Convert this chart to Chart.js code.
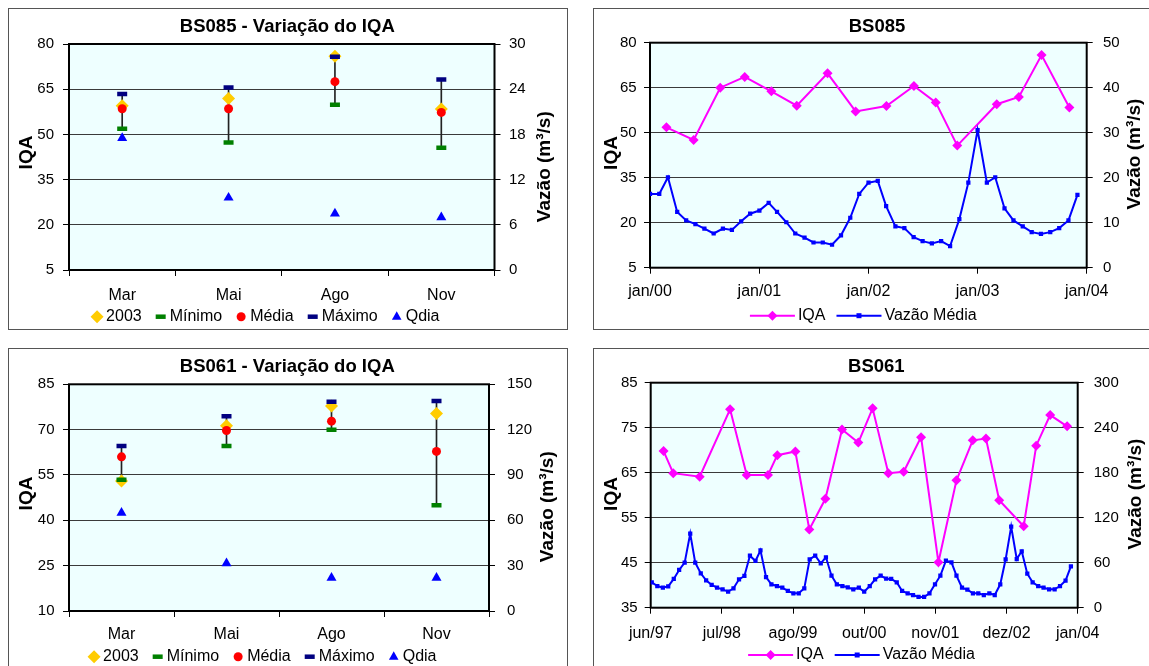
<!DOCTYPE html>
<html lang="pt-BR">
<head>
<meta charset="utf-8">
<title>IQA – BS085 / BS061</title>
<script src="https://cdn.jsdelivr.net/npm/chart.js@4.4.1/dist/chart.umd.min.js"></script>
<style>
  html, body { margin: 0; padding: 0; background: #fff; }
  body { width: 1149px; height: 666px; overflow: hidden; position: relative; }
  .panel { position: absolute; }
  .panel canvas { display: block; }
</style>
</head>
<body>
<div class="panel" style="left:8px;top:8px"><canvas id="bs085-stats" width="560" height="322"></canvas></div>
<div class="panel" style="left:593px;top:8px"><canvas id="bs085-series" width="580" height="322"></canvas></div>
<div class="panel" style="left:8px;top:348px"><canvas id="bs061-stats" width="560" height="330"></canvas></div>
<div class="panel" style="left:593px;top:348px"><canvas id="bs061-series" width="580" height="330"></canvas></div>

<script>
'use strict';

// ─── Data ────────────────────────────────────────────────────────────────────
const campaignMonths = ['Mar', 'Mai', 'Ago', 'Nov'];

// BS085 – campaign statistics (IQA) and daily flow on sampling day (m³/s)
const bs085Iqa2003 = [59.5, 61.9, 75.9, 58.4];
const bs085Min     = [51.9, 47.3, 59.8, 45.6];
const bs085Mean    = [58.5, 58.5, 67.5, 57.3];
const bs085Max     = [63.4, 65.6, 75.8, 68.2];
const bs085Qdia    = [17.5, 9.6, 7.5, 7.0];

// BS061 – campaign statistics
const bs061Iqa2003 = [53.0, 71.3, 77.8, 75.3];
const bs061Min     = [53.4, 64.6, 70.0, 45.0];
const bs061Mean    = [61.0, 69.7, 72.8, 62.8];
const bs061Max     = [64.6, 74.4, 79.2, 79.5];
const bs061Qdia    = [65.0, 31.5, 22.0, 22.0];

// BS085 – IQA per sampling date
const bs085IqaDates = [
  '2000-02-25', '2000-05-26', '2000-08-23', '2000-11-13',
  '2001-02-10', '2001-05-06', '2001-08-17', '2001-11-19',
  '2002-03-02', '2002-06-02', '2002-08-14', '2002-10-25',
  '2003-03-06', '2003-05-19', '2003-08-03', '2003-11-04',
];
const bs085Iqa = [51.8, 47.6, 65.0, 68.6, 63.8, 59.0, 69.8, 57.1, 58.9, 65.6, 60.1, 45.7, 59.5, 61.9, 75.9, 58.4];

// BS085 – monthly mean flow, jan/2000 .. dez/2003
const bs085FlowStart = '2000-01';
const bs085Flow = [
  16.4, 16.4, 20.1, 12.4, 10.5, 9.7, 8.7, 7.6, 8.7, 8.4, 10.3, 12.0,
  12.7, 14.4, 12.4, 10.1, 7.6, 6.7, 5.6, 5.6, 5.1, 7.2, 11.1, 16.4,
  18.9, 19.3, 13.7, 9.2, 8.8, 6.8, 5.9, 5.4, 5.9, 4.8, 10.8, 18.9,
  30.6, 18.9, 20.1, 13.2, 10.5, 9.2, 7.9, 7.5, 7.9, 8.8, 10.5, 16.2,
];
const bs085TickDates  = ['2000-01-01', '2001-01-01', '2002-01-01', '2003-01-01', '2004-01-01'];
const bs085TickLabels = ['jan/00', 'jan/01', 'jan/02', 'jan/03', 'jan/04'];

// BS061 – IQA per sampling date
const bs061IqaDates = [
  '1997-09-05', '1997-10-29', '1998-03-26', '1998-09-12', '1998-12-14',
  '1999-04-12', '1999-06-03', '1999-09-12', '1999-11-29', '2000-02-27',
  '2000-05-30', '2000-08-29', '2000-11-17', '2001-02-13', '2001-05-10',
  '2001-08-15', '2001-11-20', '2002-03-01', '2002-05-31', '2002-08-13',
  '2002-10-26', '2003-03-12', '2003-05-21', '2003-08-07', '2003-11-10',
];
const bs061Iqa = [
  69.8, 64.9, 64.1, 79.1, 64.5, 64.5, 68.9, 69.7, 52.4, 59.2, 74.6, 71.7, 79.3,
  64.9, 65.2, 72.9, 45.1, 63.3, 72.2, 72.6, 58.9, 53.1, 71.0, 77.8, 75.3,
];

// BS061 – monthly mean flow, jul/1997 .. dez/2003
const bs061FlowStart = '1997-07';
const bs061Flow = [
  33.9, 28.9, 26.7, 28.5, 38.3, 50.3, 60.0, 98.7, 60.0, 45.9, 36.5, 30.3,
  26.7, 24.5, 21.3, 25.8, 37.8, 42.3, 69.3, 62.3, 76.5, 40.9, 31.2, 28.9,
  26.7, 22.3, 19.2, 19.2, 25.8, 64.5, 69.3, 59.2, 67.2, 42.7, 31.2, 28.9,
  27.2, 24.5, 26.7, 21.3, 28.9, 37.8, 42.7, 38.7, 38.3, 33.9, 22.3, 19.2,
  16.9, 14.3, 14.3, 19.2, 31.2, 42.7, 62.7, 60.5, 42.7, 26.7, 24.0, 19.2,
  19.2, 16.9, 19.2, 16.9, 31.2, 64.5, 108.0, 64.9, 75.2, 45.3, 33.9, 28.9,
  26.7, 24.5, 24.5, 28.9, 36.0, 55.2,
];
// Excel date axis: major unit of 398 days starting at the axis minimum
const bs061TickDates  = ['1997-06-25', '1998-07-28', '1999-08-30', '2000-10-01', '2001-11-03', '2002-12-06', '2004-01-08'];
const bs061TickLabels = ['jun/97', 'jul/98', 'ago/99', 'out/00', 'nov/01', 'dez/02', 'jan/04'];

// ─── Style ───────────────────────────────────────────────────────────────────
const FONT    = '"Liberation Sans", Arial, Helvetica, sans-serif';
const PLOT_BG = '#EEFFFF';
const GRID    = '#3a3a3a';
const FLOW_TITLE = 'Vazão (m³/s)';

Chart.defaults.font.family = FONT;
Chart.defaults.color = '#000';

// ─── Helpers ─────────────────────────────────────────────────────────────────
const toDay = (s) => Date.UTC(+s.slice(0, 4), +s.slice(5, 7) - 1, +s.slice(8, 10)) / 864e5;

// First-of-month date strings for a monthly series
function monthStarts(first, count) {
  const [y0, m0] = first.split('-').map(Number);
  const out = [];
  for (let i = 0; i < count; i++) {
    const m = m0 - 1 + i;
    out.push(`${y0 + Math.floor(m / 12)}-${String((m % 12) + 1).padStart(2, '0')}-01`);
  }
  return out;
}

function drawRotated(ctx, text, x, y) {
  ctx.save();
  ctx.translate(x, y);
  ctx.rotate(-Math.PI / 2);
  ctx.fillText(text, 0, 0);
  ctx.restore();
}

function drawMark(ctx, mark, color, cx, cy) {
  ctx.fillStyle = color;
  ctx.beginPath();
  if (mark === 'diamond') {
    ctx.moveTo(cx, cy - 6.5); ctx.lineTo(cx + 6.5, cy); ctx.lineTo(cx, cy + 6.5); ctx.lineTo(cx - 6.5, cy);
  } else if (mark === 'dash') {
    ctx.rect(cx - 5, cy - 2.25, 10, 4.5);
  } else if (mark === 'circle') {
    ctx.arc(cx, cy, 4.5, 0, Math.PI * 2);
  } else if (mark === 'triangle') {
    ctx.moveTo(cx, cy - 5.5); ctx.lineTo(cx + 4.8, cy + 3); ctx.lineTo(cx - 4.8, cy + 3);
  } else if (mark === 'smallDiamond') {
    ctx.moveTo(cx, cy - 5); ctx.lineTo(cx + 5, cy); ctx.lineTo(cx, cy + 5); ctx.lineTo(cx - 5, cy);
  } else if (mark === 'square') {
    ctx.rect(cx - 2.5, cy - 2.5, 5, 5);
  }
  ctx.closePath();
  ctx.fill();
}

// Legend built from the datasets that carry a legendMark
function drawLegend(chart, o) {
  const { ctx } = chart;
  ctx.font = `16px ${FONT}`;
  ctx.textAlign = 'left';
  ctx.textBaseline = 'middle';
  const items = chart.data.datasets
    .filter((ds) => ds.legendMark)
    .map((ds) => ({ text: ds.label, mark: ds.legendMark, color: ds.legendColor, w: ctx.measureText(ds.label).width }));
  const markW   = o.withLine ? 45 : 14;
  const textGap = o.withLine ? 3 : 2;
  const itemGap = o.withLine ? 11 : 12;
  const total = items.reduce((sum, it) => sum + markW + textGap + it.w, 0) + itemGap * (items.length - 1);
  let x = o.cx - total / 2;
  for (const it of items) {
    if (o.withLine) {
      ctx.strokeStyle = it.color;
      ctx.lineWidth = 2;
      ctx.beginPath();
      ctx.moveTo(x, o.y);
      ctx.lineTo(x + markW, o.y);
      ctx.stroke();
    }
    drawMark(ctx, it.mark, it.color, x + markW / 2, o.y);
    ctx.fillStyle = '#000';
    ctx.fillText(it.text, x + markW + textGap, o.y);
    x += markW + textGap + it.w + itemGap;
  }
}

// ─── Panel decoration plugin ─────────────────────────────────────────────────
// Plot background, plot frame, panel frame, titles and legend.
const panelDecor = {
  id: 'panelDecor',
  beforeDraw(chart) {
    const { ctx, chartArea: a } = chart;
    ctx.save();
    ctx.fillStyle = PLOT_BG;
    ctx.fillRect(a.left, a.top, a.width, a.height);
    ctx.restore();
  },
  beforeDatasetsDraw(chart) {
    const { ctx, chartArea: a } = chart;
    ctx.save();
    ctx.strokeStyle = '#000';
    ctx.lineWidth = 2;
    ctx.strokeRect(a.left, a.top, a.width, a.height);
    ctx.restore();
  },
  afterDraw(chart, args, o) {
    const { ctx, width, height } = chart;
    ctx.save();
    ctx.strokeStyle = '#555';
    ctx.lineWidth = 1;
    ctx.strokeRect(0.5, 0.5, width - 1, height - 1);

    ctx.fillStyle = '#000';
    ctx.textAlign = 'center';
    ctx.textBaseline = 'middle';
    ctx.font = `bold 18.5px ${FONT}`;
    ctx.fillText(o.title, o.titleAt[0], o.titleAt[1]);

    ctx.font = `bold 19px ${FONT}`;
    drawRotated(ctx, 'IQA', o.iqaTitleAt[0], o.iqaTitleAt[1]);
    drawRotated(ctx, FLOW_TITLE, o.flowTitleAt[0], o.flowTitleAt[1]);

    drawLegend(chart, o.legend);
    ctx.restore();
  },
};

// ─── Axes ────────────────────────────────────────────────────────────────────
function valueAxis(position, range, box) {
  const left = position === 'left';
  return {
    type: 'linear',
    position,
    min: range[0],
    max: range[1],
    ticks: { stepSize: range[2], padding: left ? box.padL : box.padR, font: { size: 15 } },
    grid: { drawOnChartArea: left, color: GRID, tickColor: '#000', tickLength: 6 },
    border: { display: false },
    afterFit: (s) => { s.width = left ? box.left : box.right; },
  };
}

function baseOptions(box, decor) {
  return {
    responsive: false,
    animation: false,
    events: [],
    layout: { autoPadding: false, padding: { top: box.top, left: 0, right: 0, bottom: 0 } },
    plugins: {
      legend:  { display: false },
      title:   { display: false },
      tooltip: { enabled: false },
      panelDecor: decor,
    },
  };
}

function pointSet(label, data, style, radius, color, axis, order, legendMark, borderWidth = 0) {
  return {
    type: 'line', label, data, showLine: false, yAxisID: axis, order,
    pointStyle: style, pointRadius: radius,
    pointBackgroundColor: color, pointBorderColor: color, pointBorderWidth: borderWidth,
    borderColor: color, backgroundColor: color,
    legendMark, legendColor: color,
  };
}

// ─── Chart creation ──────────────────────────────────────────────────────────

/** Campaign statistics chart: min–max bar, 2003, mean and flow markers. */
function createStatsChart(canvasId, s) {
  const ctx = document.getElementById(canvasId).getContext('2d');
  const options = baseOptions(s.box, s.decor);
  options.scales = {
    x: {
      type: 'category',
      offset: true,
      grid: { offset: true, drawOnChartArea: false, color: '#000', tickLength: 6 },
      border: { display: false },
      ticks: { padding: s.box.padX, font: { size: 16 }, maxRotation: 0, autoSkip: false },
      afterFit: (sc) => { sc.height = s.box.bottom; },
    },
    y:  valueAxis('left',  s.iqaRange,  s.box),
    y1: valueAxis('right', s.flowRange, s.box),
  };
  return new Chart(ctx, {
    type: 'line',
    data: {
      labels: campaignMonths,
      datasets: [
        {
          type: 'bar', label: 'Amplitude', yAxisID: 'y', order: 9,
          data: s.min.map((v, i) => [v, s.max[i]]),
          backgroundColor: '#222', borderWidth: 0, barThickness: 1,
        },
        pointSet('2003',   s.y2003, 'rectRot',  6.5, '#FFCC00', 'y',  5, 'diamond'),
        pointSet('Mínimo', s.min,   'line',     5,   '#008000', 'y',  4, 'dash', 4.5),
        pointSet('Média',  s.mean,  'circle',   4.5, '#FF0000', 'y',  3, 'circle'),
        pointSet('Máximo', s.max,   'line',     5,   '#000080', 'y',  2, 'dash', 4.5),
        pointSet('Qdia',   s.qdia,  'triangle', 5.8, '#0000FF', 'y1', 1, 'triangle'),
      ],
    },
    options,
    plugins: [panelDecor],
  });
}

/** Time series chart: IQA (left axis) and monthly mean flow (right axis). */
function createSeriesChart(canvasId, s) {
  const ctx = document.getElementById(canvasId).getContext('2d');
  const flowDates = monthStarts(s.flowStart, s.flow.length);
  const options = baseOptions(s.box, s.decor);
  options.scales = {
    x: {
      type: 'linear',
      min: toDay(s.tickDates[0]),
      max: toDay(s.tickDates[s.tickDates.length - 1]),
      afterBuildTicks: (sc) => { sc.ticks = s.tickDates.map((d) => ({ value: toDay(d) })); },
      ticks: {
        autoSkip: false, maxRotation: 0, padding: s.box.padX, font: { size: 16 },
        callback: (v, i) => s.tickLabels[i],
      },
      grid: { drawOnChartArea: false, color: '#000', tickLength: 6 },
      border: { display: false },
      afterFit: (sc) => { sc.height = s.box.bottom; },
    },
    y:  valueAxis('left',  s.iqaRange,  s.box),
    y1: valueAxis('right', s.flowRange, s.box),
  };
  return new Chart(ctx, {
    type: 'line',
    data: {
      datasets: [
        {
          label: 'IQA', yAxisID: 'y', order: 2,
          data: s.iqaDates.map((d, i) => ({ x: toDay(d), y: s.iqa[i] })),
          borderColor: '#FF00FF', backgroundColor: '#FF00FF', borderWidth: 2,
          pointStyle: 'rectRot', pointRadius: 5, pointBorderWidth: 0,
          legendMark: 'smallDiamond', legendColor: '#FF00FF',
        },
        {
          label: 'Vazão Média', yAxisID: 'y1', order: 1,
          data: flowDates.map((d, i) => ({ x: toDay(d), y: s.flow[i] })),
          borderColor: '#0000FF', backgroundColor: '#0000FF', borderWidth: 2,
          pointStyle: 'rect', pointRadius: 3, pointBorderWidth: 0,
          legendMark: 'square', legendColor: '#0000FF',
        },
      ],
    },
    options,
    plugins: [panelDecor],
  });
}

// ─── Panels ──────────────────────────────────────────────────────────────────
createStatsChart('bs085-stats', {
  y2003: bs085Iqa2003, min: bs085Min, mean: bs085Mean, max: bs085Max, qdia: bs085Qdia,
  iqaRange: [5, 80, 15], flowRange: [0, 30, 6],
  box: { top: 36, left: 61, right: 73.5, bottom: 60, padL: 9, padR: 8.5, padX: 10.4 },
  decor: {
    title: 'BS085 - Variação do IQA', titleAt: [279.3, 18.7],
    iqaTitleAt: [19, 144.5], flowTitleAt: [537, 158.7],
    legend: { cx: 256.8, y: 308.7, withLine: false },
  },
});

createSeriesChart('bs085-series', {
  iqaDates: bs085IqaDates, iqa: bs085Iqa, flowStart: bs085FlowStart, flow: bs085Flow,
  tickDates: bs085TickDates, tickLabels: bs085TickLabels,
  iqaRange: [5, 80, 15], flowRange: [0, 50, 10],
  box: { top: 34.7, left: 57, right: 86.3, bottom: 62.3, padL: 7.4, padR: 10.3, padX: 8.4 },
  decor: {
    title: 'BS085', titleAt: [284, 18.7],
    iqaTitleAt: [18.5, 145], flowTitleAt: [542, 146],
    legend: { cx: 270.3, y: 307.7, withLine: true },
  },
});

createStatsChart('bs061-stats', {
  y2003: bs061Iqa2003, min: bs061Min, mean: bs061Mean, max: bs061Max, qdia: bs061Qdia,
  iqaRange: [10, 85, 15], flowRange: [0, 150, 30],
  box: { top: 36.3, left: 61, right: 79, bottom: 67, padL: 8.5, padR: 12, padX: 8.4 },
  decor: {
    title: 'BS061 - Variação do IQA', titleAt: [279.3, 18.7],
    iqaTitleAt: [19, 145.5], flowTitleAt: [540, 158.7],
    legend: { cx: 253.8, y: 308.7, withLine: false },
  },
});

createSeriesChart('bs061-series', {
  iqaDates: bs061IqaDates, iqa: bs061Iqa, flowStart: bs061FlowStart, flow: bs061Flow,
  tickDates: bs061TickDates, tickLabels: bs061TickLabels,
  iqaRange: [35, 85, 10], flowRange: [0, 300, 60],
  box: { top: 34.7, left: 57.7, right: 95.3, bottom: 70.3, padL: 7, padR: 10, padX: 10 },
  decor: {
    title: 'BS061', titleAt: [283.3, 18.7],
    iqaTitleAt: [18.5, 146], flowTitleAt: [543, 146],
    legend: { cx: 268.5, y: 307, withLine: true },
  },
});
</script>
</body>
</html>
